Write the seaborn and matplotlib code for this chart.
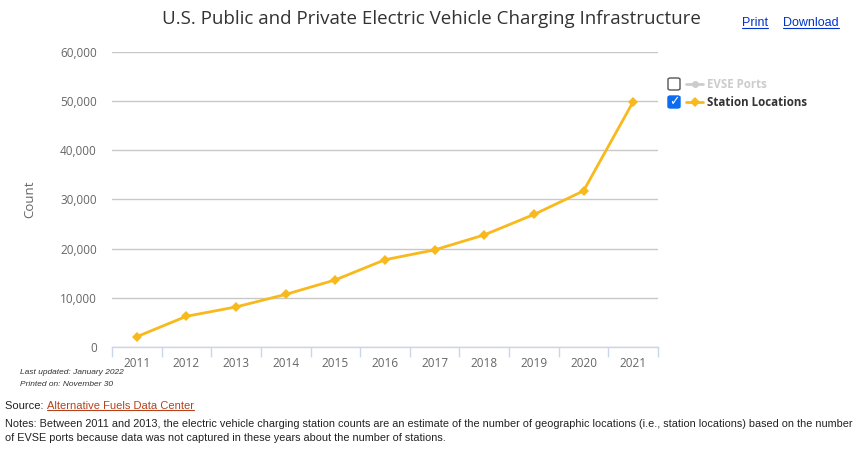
import matplotlib
matplotlib.use("Agg")
import matplotlib.pyplot as plt
import seaborn as sns
import pandas as pd
from matplotlib.patches import FancyBboxPatch
from matplotlib.lines import Line2D

years = [2011, 2012, 2013, 2014, 2015, 2016, 2017, 2018, 2019, 2020, 2021]
station_locations = [2100, 6250, 8150, 10700, 13650, 17750, 19750, 22800, 26950, 31750, 49900]
y_ticks = [0, 10000, 20000, 30000, 40000, 50000, 60000]
y_tick_labels = ["0", "10,000", "20,000", "30,000", "40,000", "50,000", "60,000"]

df = pd.DataFrame({"Year": years, "Station Locations": station_locations})

sns.set_theme(style="white")
plt.rcParams["font.family"] = ["Open Sans", "DejaVu Sans"]

W, H = 861, 450
fig = plt.figure(figsize=(W / 100, H / 100), dpi=100)
ax = fig.add_axes([112 / W, 1 - 347 / H, (658 - 112) / W, (347 - 52) / H])

line_color = "#f8b91c"
sns.lineplot(data=df, x="Year", y="Station Locations", ax=ax, color=line_color,
             marker="D", markersize=5, markeredgewidth=0, linewidth=2, zorder=5)

ax.set_xlim(years[0] - 0.5, years[-1] + 0.5)
ax.set_ylim(0, 60000)
ax.set_yticks(y_ticks)
ax.set_yticklabels(y_tick_labels)
ax.set_xticks(years)
ax.set_xticklabels([str(y) for y in years])
ax.set_xticks([y - 0.5 for y in years] + [years[-1] + 0.5], minor=True)
ax.tick_params(axis="x", which="major", bottom=True, length=0, pad=7, labelsize=8.5,
               labelcolor="#666666")
ax.tick_params(axis="x", which="minor", bottom=True, length=7.5, width=1, color="#ccd6eb",
               direction="out")
ax.tick_params(axis="y", length=0, pad=11, labelsize=8.5, labelcolor="#666666")

ax.grid(axis="y", color="#c8c8c8", linewidth=1)
ax.grid(axis="x", visible=False)
for s in ["top", "right", "left"]:
    ax.spines[s].set_visible(False)
ax.spines["bottom"].set_color("#ccd6eb")
ax.spines["bottom"].set_linewidth(1)
ax.set_xlabel("")
ax.set_ylabel("Count", color="#666666", fontsize=9.5)
ax.yaxis.set_label_coords(-(112 - 36) / (658 - 112), 0.5)

# Title and links
fig.text(431 / W, 1 - 19 / H, "U.S. Public and Private Electric Vehicle Charging Infrastructure",
         ha="center", va="center", fontsize=13.5, color="#333333")

def underlined(x, y, s, color, **kw):
    t = fig.text(x, y, s, color=color, **kw)
    fig.canvas.draw()
    bb = t.get_window_extent().transformed(fig.transFigure.inverted())
    fig.add_artist(Line2D([bb.x0, bb.x1], [bb.y0 + 0.002, bb.y0 + 0.002],
                          transform=fig.transFigure, color=color, linewidth=0.8))
    return t

underlined(742 / W, 1 - 23 / H, "Print", "#0033cc", fontsize=9, va="center", ha="left",
           family=["Liberation Sans", "DejaVu Sans"])
underlined(783 / W, 1 - 23 / H, "Download", "#0033cc", fontsize=9, va="center", ha="left",
           family=["Liberation Sans", "DejaVu Sans"])

# Legend with checkboxes
def checkbox(xc, yc, checked):
    size = 12
    if checked:
        p = FancyBboxPatch(((xc - size / 2) / W, 1 - (yc + size / 2) / H), size / W, size / H,
                           boxstyle="round,pad=0,rounding_size=0.003", transform=fig.transFigure,
                           facecolor="#0b6cf0", edgecolor="#0b6cf0", linewidth=1)
        fig.add_artist(p)
        fig.text(xc / W, 1 - yc / H, "\u2713", ha="center", va="center", color="white",
                 fontsize=9, fontweight="bold", family=["DejaVu Sans"])
    else:
        p = FancyBboxPatch(((xc - size / 2) / W, 1 - (yc + size / 2) / H), size / W, size / H,
                           boxstyle="round,pad=0,rounding_size=0.003", transform=fig.transFigure,
                           facecolor="white", edgecolor="#555555", linewidth=1)
        fig.add_artist(p)

def legend_item(yc, label, color, text_color, checked):
    checkbox(674, yc, checked)
    fig.add_artist(Line2D([686 / W, 703 / W], [1 - yc / H, 1 - yc / H], transform=fig.transFigure,
                          color=color, linewidth=2))
    fig.add_artist(Line2D([694.5 / W], [1 - yc / H], transform=fig.transFigure, color=color,
                          marker="D" if checked else "o", markersize=5, markeredgewidth=0))
    fig.text(707 / W, 1 - yc / H, label, ha="left", va="center", fontsize=8.3,
             fontweight="bold", color=text_color)

legend_item(84, "EVSE Ports", "#cccccc", "#cccccc", False)
legend_item(102, "Station Locations", line_color, "#333333", True)

# Footer
fig.text(20 / W, 1 - 372 / H, "Last updated: January 2022", fontsize=6, style="italic",
         color="#333333", va="center", family=["Liberation Sans", "DejaVu Sans"])
fig.text(20 / W, 1 - 385 / H, "Printed on: November 30", fontsize=6, style="italic",
         color="#333333", va="center", family=["Liberation Sans", "DejaVu Sans"])
t1 = fig.text(5 / W, 1 - 406 / H, "Source: ", fontsize=8, color="#222222", va="center",
              family=["Liberation Sans", "DejaVu Sans"])
fig.canvas.draw()
bb = t1.get_window_extent().transformed(fig.transFigure.inverted())
underlined(bb.x1, 1 - 406 / H, "Alternative Fuels Data Center", "#b5421b", fontsize=8,
           va="center", ha="left", family=["Liberation Sans", "DejaVu Sans"])
fig.text(5 / W, 1 - 424 / H,
         "Notes: Between 2011 and 2013, the electric vehicle charging station counts are an estimate of the number of geographic locations (i.e., station locations) based on the number",
         fontsize=7.85, color="#222222", va="center", family=["Liberation Sans", "DejaVu Sans"])
fig.text(5 / W, 1 - 438 / H,
         "of EVSE ports because data was not captured in these years about the number of stations.",
         fontsize=7.85, color="#222222", va="center", family=["Liberation Sans", "DejaVu Sans"])

fig.savefig("out.png", dpi=100, facecolor="white")
